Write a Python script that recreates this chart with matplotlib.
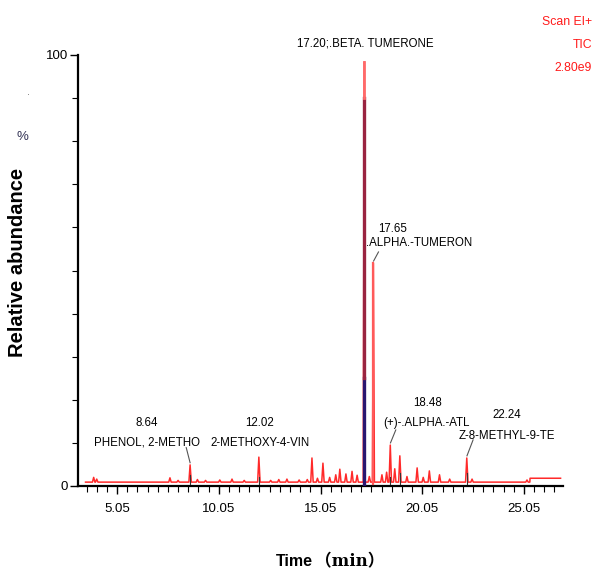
import matplotlib
matplotlib.use("Agg")
import matplotlib.pyplot as plt
from matplotlib.ticker import MultipleLocator, FixedLocator
import numpy as np

# ---- data ----
peak_times = [3.90, 4.05, 7.65, 8.05, 8.64, 9.00, 9.40, 10.10, 10.70, 11.30,
              12.02, 12.60, 13.00, 13.40, 14.00, 14.40, 14.63, 14.90, 15.17, 15.50,
              15.80, 16.00, 16.30, 16.60, 16.85, 17.20, 17.45, 17.65, 18.07, 18.30,
              18.48, 18.70, 18.95, 19.30, 19.80, 20.10, 20.40, 20.90, 21.40, 22.24,
              22.50, 25.20]
peak_heights = [2.0, 1.6, 1.9, 1.3, 4.9, 1.5, 1.3, 1.4, 1.6, 1.3,
                6.7, 1.3, 1.5, 1.6, 1.4, 1.5, 6.5, 1.8, 5.3, 2.0,
                2.6, 3.9, 2.8, 3.4, 2.5, 98.4, 2.2, 51.7, 2.6, 3.2,
                9.5, 4.0, 7.0, 2.2, 4.2, 2.0, 3.5, 2.6, 1.6, 6.5,
                1.6, 1.4]
baseline_level = 0.9
trace_start, trace_end = 3.50, 26.85
step_time, step_level = 25.35, 1.8

x_major = [5.05, 10.05, 15.05, 20.05, 25.05]
x_labels = ["5.05", "10.05", "15.05", "20.05", "25.05"]

# (text, x, y) in data units
label_texts = [
    ("8.64", 6.52, 14.6), ("PHENOL, 2-METHO", 6.52, 10.0),
    ("12.02", 12.07, 14.6), ("2-METHOXY-4-VIN", 12.07, 10.0),
    ("17.65", 18.61, 59.6), (".ALPHA.-TUMERON", 19.89, 56.4),
    ("18.48", 20.33, 19.3), ("(+)-.ALPHA.-ATL", 20.28, 14.6),
    ("22.24", 24.21, 16.5), ("Z-8-METHYL-9-TE", 24.21, 11.6),
]
# leader lines: (x0, y0, x1, y1) text end -> peak apex
leaders = [
    (8.45, 8.9, 8.64, 5.4),
    (17.90, 54.3, 17.66, 52.2),
    (18.75, 13.0, 18.49, 10.0),
    (22.55, 10.7, 22.25, 7.0),
]

# ---- build trace (piecewise between baseline and read peak apexes) ----
t_pts = [trace_start]
y_pts = [baseline_level]
for t, h in zip(peak_times, peak_heights):
    w = 0.05 if h > 20 else 0.06
    t_pts += [t - w, t, t + w]
    y_pts += [baseline_level, h, baseline_level]
t_pts += [step_time - 0.01, step_time, trace_end]
y_pts += [baseline_level, step_level, step_level]

fig = plt.figure(figsize=(5.94, 5.70), dpi=100)
ax = fig.add_axes([78/594, 1-486/570, (563-78)/594, (486-55)/570])

ax.plot(t_pts, y_pts, color="#ff2a2a", lw=1.1, zorder=3)
# integration overlays on main peaks
ax.plot([17.20, 17.20], [0.3, 25], color="#2b1670", lw=2.4, zorder=4)
ax.plot([17.20, 17.20], [25, 90], color="#9a2440", lw=2.4, zorder=4)
ax.plot([17.20, 17.20], [90, 98.4], color="#ff6a6a", lw=2.0, zorder=4)
ax.plot([17.65, 17.65], [0.5, 51.7], color="#ff5a5a", lw=1.6, zorder=3)
for t, h in [(8.64, 2.5), (12.02, 2.0), (18.48, 2.2), (18.95, 3.0), (22.24, 3.0)]:
    ax.plot([t, t], [0.5, h], color="#333333", lw=0.8, zorder=4)

ax.set_xlim(3.13, 26.97)
ax.set_ylim(0, 100)

for s in ["top", "right"]:
    ax.spines[s].set_visible(False)
for s in ["left", "bottom"]:
    ax.spines[s].set_linewidth(1.6)

ax.xaxis.set_major_locator(FixedLocator(x_major))
ax.set_xticklabels(x_labels)
ax.xaxis.set_minor_locator(FixedLocator(list(np.arange(3.55, 26.97, 0.5))))
ax.yaxis.set_major_locator(FixedLocator([0, 100]))
ax.set_yticklabels(["0", "100"])
ax.yaxis.set_minor_locator(MultipleLocator(10))
ax.tick_params(axis="both", which="major", length=6, width=1, direction="out",
               labelsize=9.5)
ax.tick_params(axis="both", which="minor", length=4, width=0.8, direction="out")
ax.tick_params(axis="x", pad=6)
ax.tick_params(axis="y", pad=1)

fam = ["Liberation Sans", "DejaVu Sans"]
for lab in ax.get_xticklabels() + ax.get_yticklabels():
    lab.set_family(fam)

for txt, tx, ty in label_texts:
    ax.text(tx, ty, txt, ha="center", va="center", fontsize=8.3, family=fam)
for x0, y0, x1, y1 in leaders:
    ax.plot([x0, x1], [y0, y1], color="#555555", lw=0.8)

ax.text(17.23, 102.6, "17.20;.BETA. TUMERONE", ha="center", va="center",
        fontsize=8.3, family=fam, clip_on=False)

for txt, yy in [("Scan EI+", 22), ("TIC", 45), ("2.80e9", 68)]:
    fig.text(592/594, 1-yy/570, txt, color="#ff1a1a", ha="right", va="center",
             fontsize=8.8, family=fam)
fig.text(22/594, 1-137/570, "%", color="#333355", ha="center", va="center",
         fontsize=9.5, family=fam)
fig.text(28/594, 1-95/570, "·", color="#777777", ha="center", va="center", fontsize=7)

fig.text(18/594, 1-262/570, "Relative abundance", rotation=90, ha="center",
         va="center", fontsize=14.5, fontweight="bold", family="Liberation Sans")
fig.text(313/594, 1-562/570, "Time", ha="right", va="center", fontsize=11.5,
         fontweight="bold", family="Liberation Sans")
fig.text(315/594, 1-562/570, "（min）", ha="left", va="center", fontsize=12,
         fontweight="bold", family=["DejaVu Serif", "Noto Sans CJK SC"])

fig.savefig("out.png", dpi=100)
